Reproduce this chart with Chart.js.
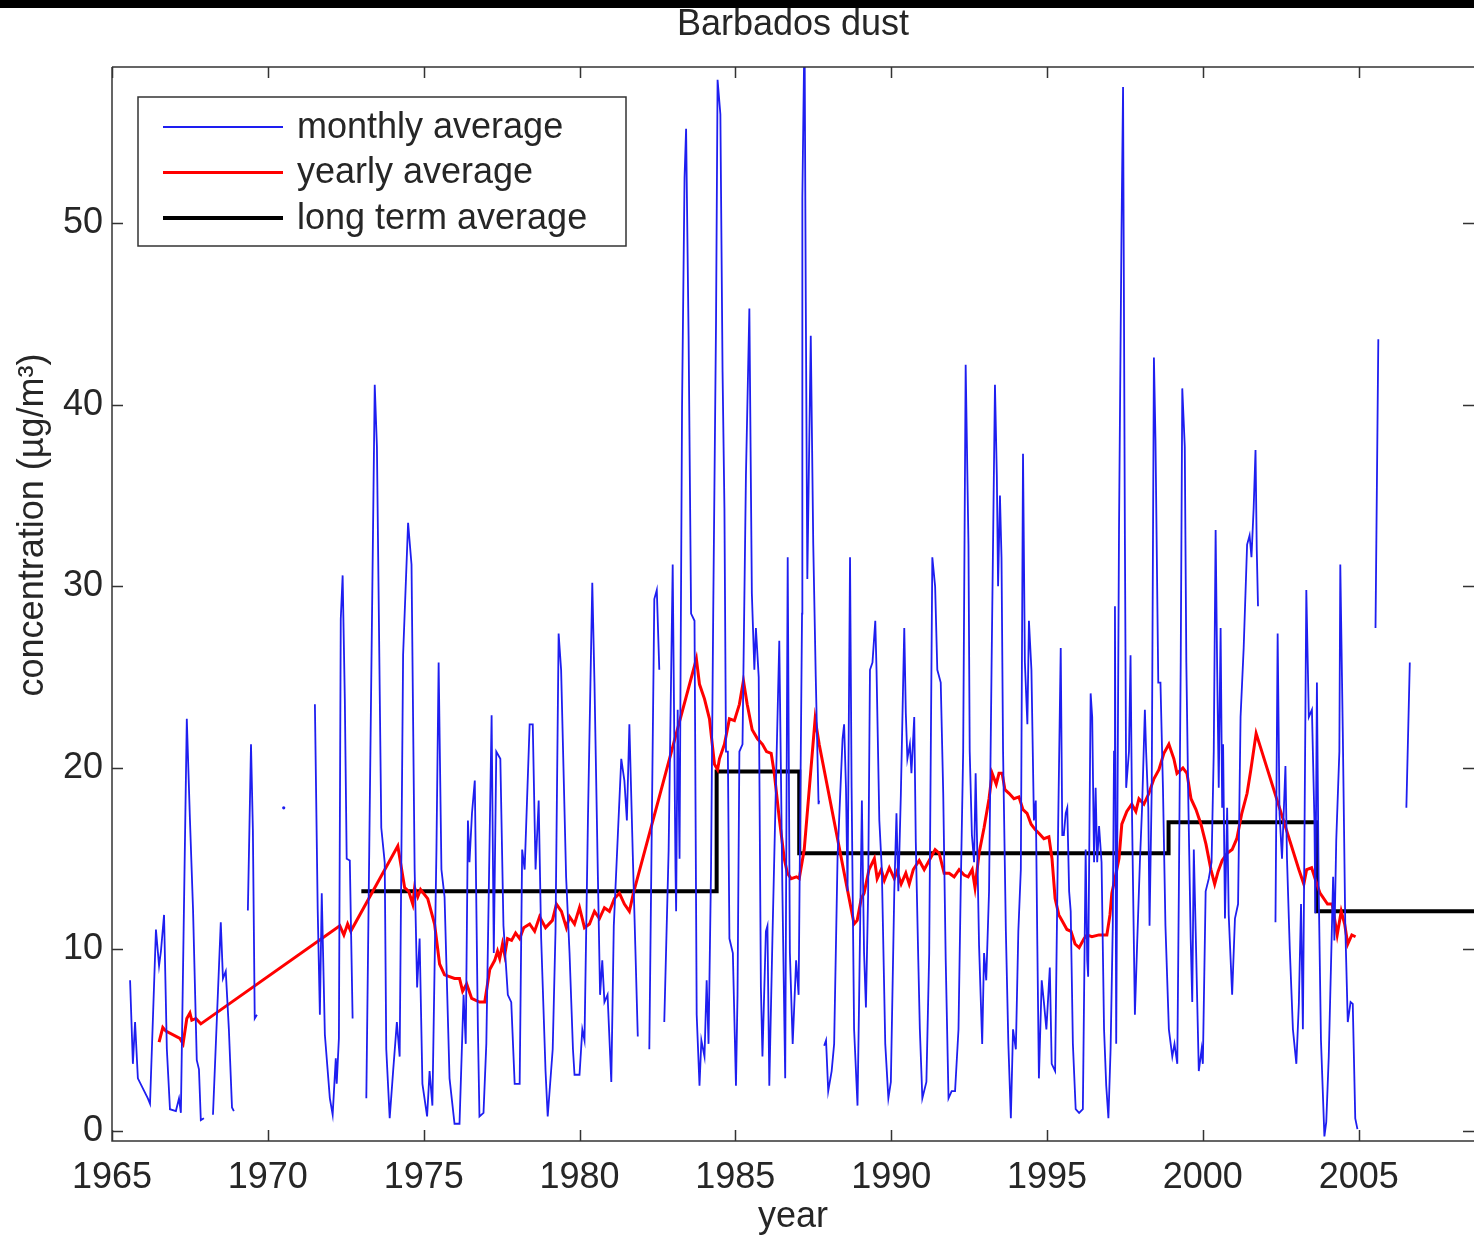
<!DOCTYPE html>
<html>
<head>
<meta charset="utf-8">
<title>Barbados dust</title>
<script src="https://cdn.jsdelivr.net/npm/chart.js@4.4.1/dist/chart.umd.min.js"></script>
<style>
  html, body { margin: 0; padding: 0; background: #fff; }
  #wrap { position: relative; width: 1474px; height: 1242px; }
  #topbar { position: absolute; left: 0; top: 0; width: 1474px; height: 8px; background: #000; }
</style>
</head>
<body>
<div id="wrap">
  <canvas id="dustChart" width="1474" height="1242"></canvas>
  <div id="topbar"></div>
</div>
<script>
/* DATA */
const xTicks = [1965, 1970, 1975, 1980, 1985, 1990, 1995, 2000, 2005];
const yTicks = [0, 10, 20, 30, 40, 50];

// monthly average, null = gap in the record
const monthlyYear = [
  1965.58, 1965.67, 1965.74, 1965.83, 1966.15, 1966.22, 1966.41, 1966.51, 1966.57, 1966.67,
  1966.76, 1966.86, 1967.05, 1967.15, 1967.21, 1967.40, 1967.50, 1967.60, 1967.72, 1967.79,
  1967.85, 1967.95, 1968.10, 1968.24, 1968.49, 1968.56, 1968.65, 1968.75, 1968.85, 1968.91,
  1969.10, 1969.33, 1969.36, 1969.46, 1969.52, 1969.58, 1969.65, 1970.00, 1970.51, 1971.00,
  1971.51, 1971.60, 1971.67, 1971.73, 1971.83, 1971.99, 1972.08, 1972.18, 1972.21, 1972.28,
  1972.34, 1972.40, 1972.47, 1972.53, 1972.63, 1972.72, 1972.90,
  1973.16, 1973.43, 1973.50, 1973.64, 1973.75, 1973.80, 1973.91, 1974.02, 1974.14, 1974.23,
  1974.34, 1974.50, 1974.61, 1974.71, 1974.79, 1974.87, 1974.96, 1975.11, 1975.19, 1975.28,
  1975.41, 1975.48, 1975.57, 1975.67, 1975.83, 1975.99, 1976.15, 1976.28, 1976.35, 1976.42,
  1976.47, 1976.55, 1976.64, 1976.74, 1976.79, 1976.92, 1977.01, 1977.18, 1977.25, 1977.33,
  1977.46, 1977.56, 1977.70, 1977.81, 1977.92, 1978.08, 1978.16, 1978.24, 1978.40, 1978.50,
  1978.59, 1978.69, 1978.77, 1978.91, 1978.98, 1979.14, 1979.23, 1979.33, 1979.41, 1979.57,
  1979.68, 1979.79, 1979.84, 1980.00, 1980.09, 1980.16, 1980.27, 1980.41, 1980.48, 1980.59,
  1980.66, 1980.73, 1980.80, 1980.90, 1981.02, 1981.10, 1981.23, 1981.34, 1981.44, 1981.52,
  1981.60, 1981.71, 1981.79, 1981.87, 1982.10,
  1982.24, 1982.40, 1982.48, 1982.56, 1982.65,
  1982.72, 1982.86, 1982.99, 1983.08, 1983.10, 1983.15, 1983.21, 1983.29, 1983.37, 1983.42,
  1983.50, 1983.58, 1983.69, 1983.76, 1983.85, 1983.91, 1984.01, 1984.08, 1984.14, 1984.22,
  1984.29, 1984.38, 1984.43, 1984.52, 1984.59, 1984.65, 1984.70, 1984.76, 1984.81, 1984.92,
  1985.02, 1985.07, 1985.13, 1985.23, 1985.34, 1985.45, 1985.53, 1985.61, 1985.66, 1985.75,
  1985.82, 1985.87, 1985.98, 1986.03, 1986.09, 1986.19, 1986.30, 1986.41, 1986.51, 1986.60,
  1986.68, 1986.75, 1986.84, 1986.95, 1987.03, 1987.14, 1987.15, 1987.22, 1987.26, 1987.31,
  1987.42, 1987.50, 1987.58, 1987.67, 1987.69, 1987.78,
  1987.85, 1987.91, 1987.98, 1988.09, 1988.17, 1988.28, 1988.44, 1988.49, 1988.55, 1988.60,
  1988.68, 1988.73, 1988.81, 1988.92, 1988.97, 1989.06, 1989.13, 1989.19, 1989.26, 1989.32,
  1989.40, 1989.49, 1989.53, 1989.62, 1989.70, 1989.81, 1989.91, 1989.99, 1990.10, 1990.17,
  1990.23, 1990.31, 1990.42, 1990.47, 1990.52, 1990.60, 1990.65, 1990.74, 1990.79, 1990.87,
  1990.92, 1991.00, 1991.13, 1991.22, 1991.32, 1991.41, 1991.48, 1991.59, 1991.67, 1991.75,
  1991.84, 1991.94, 1992.05, 1992.16, 1992.23, 1992.31, 1992.39, 1992.48, 1992.52, 1992.59,
  1992.66, 1992.71, 1992.77, 1992.82, 1992.92, 1992.98, 1993.05, 1993.14, 1993.22, 1993.33,
  1993.39, 1993.43, 1993.49, 1993.54, 1993.59, 1993.68, 1993.76, 1993.84, 1993.91, 1994.00,
  1994.08, 1994.16, 1994.23, 1994.29, 1994.37, 1994.42, 1994.50, 1994.58, 1994.64, 1994.69,
  1994.74, 1994.83, 1994.90, 1994.98, 1995.09, 1995.15, 1995.26, 1995.36, 1995.44, 1995.49,
  1995.54, 1995.60, 1995.65, 1995.71, 1995.76, 1995.83, 1995.92, 1996.03, 1996.15, 1996.24,
  1996.29, 1996.32, 1996.40, 1996.45, 1996.51, 1996.56, 1996.61, 1996.67, 1996.75, 1996.83,
  1996.90, 1996.97, 1997.04, 1997.11, 1997.15, 1997.18, 1997.22, 1997.31, 1997.39, 1997.44,
  1997.50, 1997.54, 1997.63, 1997.68, 1997.73, 1997.82, 1997.89, 1997.98, 1998.05, 1998.14,
  1998.18, 1998.25, 1998.29, 1998.36, 1998.43, 1998.48, 1998.57, 1998.64, 1998.72, 1998.80,
  1998.91, 1999.02, 1999.09, 1999.18, 1999.23, 1999.29, 1999.34, 1999.42, 1999.47, 1999.53,
  1999.61, 1999.66, 1999.71, 1999.77, 1999.82, 1999.87, 1999.96, 2000.00, 2000.09, 2000.19,
  2000.28, 2000.35, 2000.41, 2000.46, 2000.51, 2000.57, 2000.62, 2000.65, 2000.71, 2000.78,
  2000.83, 2000.94, 2001.03, 2001.13, 2001.21, 2001.31, 2001.42, 2001.50, 2001.56, 2001.63,
  2001.69, 2001.73, 2001.77, 2001.95,
  2002.33, 2002.40, 2002.46, 2002.54, 2002.65, 2002.70, 2002.79, 2002.89, 2003.00, 2003.08,
  2003.15, 2003.21, 2003.26, 2003.32, 2003.40, 2003.45, 2003.50, 2003.58, 2003.61, 2003.66,
  2003.72, 2003.79, 2003.90, 2003.96, 2004.04, 2004.11, 2004.18, 2004.22, 2004.28, 2004.38,
  2004.41, 2004.49, 2004.57, 2004.65, 2004.74, 2004.81, 2004.89, 2004.96, 2005.20,
  2005.54, 2005.63, 2006.00,
  2006.53, 2006.64
];
const monthlyValue = [
  8.3, 3.7, 6.0, 2.9, 1.8, 1.5, 11.1, 9.1, 9.9, 11.9,
  4.5, 1.2, 1.1, 1.8, 1.0, 22.7, 17.2, 12.2, 3.9, 3.4,
  0.6, 0.7, null, 0.9, 11.5, 8.4, 8.8, 5.6, 1.3, 1.1,
  null, 12.2, 12.2, 21.3, 16.6, 6.2, 6.4, null, 17.8, null,
  23.5, 12.2, 6.4, 13.1, 5.3, 1.8, 0.9, 4.0, 2.6, 5.1,
  28.2, 30.6, 23.8, 15.0, 14.9, 6.2, null,
  1.8, 41.1, 37.7, 16.7, 14.8, 4.5, 0.7, 3.3, 6.0, 4.1,
  26.2, 33.5, 31.2, 14.4, 7.9, 10.6, 2.6, 0.8, 3.3, 1.4,
  15.5, 25.8, 14.4, 12.9, 2.9, 0.4, 0.4, 7.5, 4.8, 17.1,
  14.8, 17.5, 19.3, 5.6, 0.8, 1.0, 4.8, 22.9, 9.8, 20.9,
  20.5, 11.3, 7.5, 7.1, 2.6, 2.6, 15.5, 14.4, 22.4, 22.4,
  14.4, 18.2, 10.6, 3.3, 0.8, 4.5, 11.0, 27.4, 25.4, 14.0,
  9.8, 4.5, 3.1, 3.1, 5.6, 5.0, 17.1, 30.2, 24.7, 14.0,
  7.5, 9.4, 7.1, 7.5, 2.7, 11.3, 16.3, 20.5, 19.3, 17.1,
  22.4, 15.2, 10.2, 5.2, null,
  4.5, 29.3, 29.8, 25.4, null,
  6.0, 15.5, 31.2, 14.4, 12.1, 23.2, 15.0, 39.9, 52.5, 55.2,
  43.8, 28.5, 28.1, 6.4, 2.5, 5.0, 4.1, 8.3, 4.8, 14.4,
  28.5, 44.5, 57.9, 56.0, 41.8, 34.3, 20.9, 20.9, 10.6, 9.8,
  2.5, 7.5, 20.9, 21.3, 36.1, 45.3, 29.6, 25.4, 27.7, 25.0,
  7.9, 4.1, 11.0, 11.3, 2.5, 10.6, 18.9, 27.0, 13.2, 2.9,
  31.6, 9.8, 4.8, 9.4, 7.5, 28.5, 51.4, 61.0, 45.7, 30.4,
  43.8, 32.3, 25.0, 18.0, 18.2, null,
  4.7, 5.0, 2.2, 3.3, 4.8, 15.1, 21.6, 22.4, 18.9, 13.2,
  31.6, 18.9, 5.6, 1.4, 7.1, 18.2, 9.8, 6.8, 13.0, 25.4,
  25.8, 28.1, 25.4, 17.1, 14.4, 4.8, 1.8, 2.7, 13.2, 17.5,
  13.2, 18.5, 27.7, 23.0, 20.5, 21.3, 19.7, 22.8, 15.9, 9.4,
  5.6, 1.8, 2.7, 9.8, 31.6, 30.0, 25.4, 24.7, 18.6, 9.4,
  1.8, 2.2, 2.2, 5.6, 13.2, 20.9, 42.2, 32.3, 20.9, 16.3,
  14.8, 19.7, 14.8, 10.2, 4.8, 9.8, 8.3, 13.2, 25.4, 41.1,
  36.1, 30.0, 35.0, 31.6, 20.9, 11.0, 4.8, 0.7, 5.6, 4.5,
  11.0, 14.4, 37.3, 25.8, 22.4, 28.1, 25.4, 17.1, 18.2, 10.2,
  2.9, 8.3, 7.1, 5.6, 9.0, 3.7, 3.3, 17.1, 26.6, 16.3,
  16.3, 17.5, 17.8, 13.2, 12.1, 4.8, 1.2, 1.0, 1.2, 15.5,
  9.4, 8.5, 24.1, 22.8, 14.8, 18.9, 14.8, 16.8, 14.8, 5.6,
  2.5, 0.7, 4.5, 11.3, 20.9, 28.9, 4.8, 33.1, 49.5, 57.5,
  32.3, 18.9, 20.9, 26.2, 17.1, 6.4, 10.2, 14.8, 17.8, 23.2,
  20.9, 17.8, 11.3, 18.9, 42.6, 38.1, 24.7, 24.7, 18.9, 11.3,
  5.6, 4.1, 4.8, 3.7, 13.2, 25.8, 40.9, 37.7, 25.8, 18.6,
  10.6, 7.1, 15.5, 11.0, 7.1, 3.3, 4.5, 3.7, 13.2, 13.9,
  14.8, 20.9, 33.1, 25.4, 18.9, 27.7, 17.8, 21.3, 11.7, 17.8,
  11.9, 7.5, 11.7, 12.5, 22.8, 26.6, 32.3, 32.8, 31.6, 34.3,
  37.5, 32.0, 28.9, null,
  11.5, 27.4, 17.5, 15.0, 20.1, 15.0, 10.0, 5.6, 3.7, 7.0,
  12.5, 5.6, 16.0, 29.8, 22.8, 23.0, 23.2, 17.1, 12.0, 24.7,
  13.0, 5.0, -0.3, 0.5, 4.1, 9.0, 14.0, 10.5, 16.0, 20.9,
  31.2, 22.0, 11.3, 6.0, 7.1, 7.0, 0.7, 0.1, null,
  27.7, 43.6, null,
  17.8, 25.8
];

// yearly (running) average
const yearlyYear = [
  1966.51, 1966.63, 1966.73, 1967.18, 1967.28, 1967.40, 1967.50, 1967.56, 1967.69, 1967.85,
  1972.31, 1972.44, 1972.56, 1972.66, 1974.17, 1974.39, 1974.52, 1974.65, 1974.71, 1974.81,
  1974.90, 1975.13, 1975.35, 1975.51, 1975.67, 1975.99, 1976.15, 1976.25, 1976.38, 1976.54,
  1976.79, 1976.96, 1977.12, 1977.28, 1977.37, 1977.44, 1977.53, 1977.60, 1977.69, 1977.82,
  1977.95, 1978.08, 1978.21, 1978.40, 1978.56, 1978.72, 1978.91, 1979.13, 1979.26, 1979.42,
  1979.58, 1979.68, 1979.84, 1980.00, 1980.16, 1980.32, 1980.48, 1980.64, 1980.80, 1980.96,
  1981.12, 1981.28, 1981.44, 1981.60, 1981.73, 1983.75, 1983.85, 1984.01, 1984.17, 1984.33,
  1984.43, 1984.49, 1984.65, 1984.81, 1984.97, 1985.13, 1985.26, 1985.38, 1985.54, 1985.71,
  1985.87, 1986.00, 1986.15, 1986.25, 1986.41, 1986.57, 1986.67, 1986.79, 1986.96, 1987.05,
  1987.21, 1987.56, 1987.69, 1988.81, 1988.91, 1989.04, 1989.13, 1989.29, 1989.46, 1989.55,
  1989.68, 1989.78, 1989.94, 1990.10, 1990.19, 1990.32, 1990.47, 1990.58, 1990.71, 1990.90,
  1991.06, 1991.22, 1991.41, 1991.54, 1991.70, 1991.86, 1992.02, 1992.18, 1992.34, 1992.47,
  1992.60, 1992.69, 1992.82, 1992.98, 1993.14, 1993.24, 1993.37, 1993.46, 1993.56, 1993.65,
  1993.78, 1993.94, 1994.10, 1994.23, 1994.36, 1994.49, 1994.62, 1994.74, 1994.90, 1995.06,
  1995.16, 1995.26, 1995.38, 1995.48, 1995.64, 1995.77, 1995.90, 1996.03, 1996.19, 1996.28,
  1996.44, 1996.67, 1996.92, 1997.02, 1997.08, 1997.18, 1997.31, 1997.40, 1997.56, 1997.72,
  1997.85, 1997.95, 1998.11, 1998.27, 1998.43, 1998.59, 1998.75, 1998.91, 1999.07, 1999.17,
  1999.36, 1999.49, 1999.62, 1999.78, 1999.94, 2000.10, 2000.26, 2000.38, 2000.49, 2000.62,
  2000.78, 2000.94, 2001.09, 2001.25, 2001.42, 2001.54, 2001.71, 2003.08, 2003.24, 2003.33,
  2003.49, 2003.60, 2003.76, 2004.00, 2004.15, 2004.31, 2004.44, 2004.55, 2004.65, 2004.78,
  2004.90
];
const yearlyValue = [
  4.9, 5.7, 5.5, 5.1, 4.8, 6.2, 6.5, 6.1, 6.2, 5.9,
  11.3, 10.8, 11.4, 11.0, 15.7, 13.4, 13.2, 12.5, 13.4, 12.9,
  13.3, 12.8, 11.4, 9.2, 8.6, 8.4, 8.4, 7.7, 8.1, 7.3,
  7.1, 7.1, 8.9, 9.4, 9.9, 9.5, 10.3, 9.7, 10.6, 10.5,
  10.9, 10.6, 11.2, 11.4, 11.0, 11.8, 11.2, 11.6, 12.5, 12.1,
  11.2, 11.8, 11.4, 12.3, 11.2, 11.4, 12.1, 11.7, 12.3, 12.1,
  12.8, 13.1, 12.5, 12.1, 13.1, 26.0, 24.6, 23.8, 22.7, 20.2,
  19.9, 20.5, 21.3, 22.7, 22.6, 23.5, 24.8, 23.5, 22.1, 21.6,
  21.3, 20.9, 20.8, 19.7, 17.2, 15.0, 14.2, 13.9, 14.0, 13.9,
  15.5, 22.7, 21.3, 11.4, 11.6, 12.8, 13.1, 14.4, 15.0, 13.9,
  14.4, 13.8, 14.5, 13.9, 14.3, 13.6, 14.2, 13.6, 14.4, 14.9,
  14.4, 14.9, 15.5, 15.3, 14.2, 14.2, 14.0, 14.4, 14.1, 14.0,
  14.4, 13.4, 15.3, 16.7, 18.3, 19.7, 19.1, 19.7, 19.7, 18.8,
  18.6, 18.3, 18.4, 17.7, 17.5, 16.9, 16.6, 16.4, 16.1, 16.2,
  15.0, 12.8, 11.9, 11.6, 11.1, 11.0, 10.3, 10.1, 10.6, 10.8,
  10.7, 10.8, 10.8, 11.9, 13.1, 13.9, 15.0, 16.9, 17.6, 18.0,
  17.6, 18.3, 18.0, 18.6, 19.4, 19.9, 20.8, 21.3, 20.5, 19.7,
  20.0, 19.7, 18.3, 17.7, 16.9, 15.8, 14.4, 13.6, 14.3, 14.9,
  15.3, 15.5, 16.1, 17.5, 18.6, 19.9, 21.9, 14.4, 13.6, 14.4,
  14.5, 13.9, 13.1, 12.5, 12.5, 10.8, 12.1, 11.4, 10.3, 10.8,
  10.7
];

// long term average, value holds from each year until the next one
const longYear = [1973.0, 1984.4, 1987.05, 1998.9, 2003.65, 2009.0];
const longValue = [13.2, 19.8, 15.3, 17.0, 12.1, 12.1];

const toPoints = (xs, ys) => xs.map((x, i) => ({ x: x, y: ys[i] }));

const FONT = '"Liberation Sans", Arial, Helvetica, sans-serif';
const INK = '#262626';

/* frame + inward ticks, matlab style */
const frameTicks = {
  id: 'frameTicks',
  afterDatasetsDraw(chart) {
    const { ctx, chartArea: a, scales: { x, y } } = chart;
    ctx.save();
    ctx.strokeStyle = '#333';
    ctx.lineWidth = 1.5;
    ctx.beginPath();
    ctx.moveTo(a.left, a.top);
    ctx.lineTo(a.right, a.top);
    ctx.moveTo(a.left, a.top);
    ctx.lineTo(a.left, a.bottom);
    ctx.lineTo(a.right, a.bottom);
    x.ticks.forEach(t => {
      const px = Math.round(x.getPixelForValue(t.value)) + 0.5;
      ctx.moveTo(px, a.bottom);
      ctx.lineTo(px, a.bottom - 11);
      ctx.moveTo(px, a.top);
      ctx.lineTo(px, a.top + 11);
    });
    y.ticks.forEach(t => {
      const py = Math.round(y.getPixelForValue(t.value)) + 0.5;
      ctx.moveTo(a.left, py);
      ctx.lineTo(a.left + 11, py);
      ctx.moveTo(a.right - 11, py);
      ctx.lineTo(a.right, py);
    });
    ctx.stroke();
    ctx.restore();
  }
};

/* legend box in the upper left corner of the axes */
const boxLegend = {
  id: 'boxLegend',
  afterDraw(chart) {
    const { ctx, chartArea: a } = chart;
    const bx = a.left + 26, by = a.top + 30, bw = 488, bh = 149;
    ctx.save();
    ctx.fillStyle = '#fff';
    ctx.fillRect(bx, by, bw, bh);
    ctx.strokeStyle = '#333';
    ctx.lineWidth = 1.5;
    ctx.strokeRect(bx, by, bw, bh);
    ctx.font = '36px ' + FONT;
    ctx.textBaseline = 'middle';
    ctx.textAlign = 'left';
    chart.data.datasets.forEach((ds, i) => {
      const ry = by + 30 + i * 45.5;
      ctx.strokeStyle = ds.borderColor;
      ctx.lineWidth = ds.borderWidth;
      ctx.beginPath();
      ctx.moveTo(bx + 25, ry);
      ctx.lineTo(bx + 145, ry);
      ctx.stroke();
      ctx.fillStyle = INK;
      ctx.fillText(ds.label, bx + 159, ry + 1);
    });
    ctx.restore();
  }
};

/* y axis title sits above the middle of the axis in the original */
const yTitle = {
  id: 'yTitle',
  afterDraw(chart) {
    const { ctx } = chart;
    ctx.save();
    ctx.translate(33, 525);
    ctx.rotate(-Math.PI / 2);
    ctx.font = '36px ' + FONT;
    ctx.fillStyle = INK;
    ctx.textAlign = 'center';
    ctx.textBaseline = 'middle';
    ctx.fillText('concentration (\u00b5g/m\u00b3)', 0, 0);
    ctx.restore();
  }
};

new Chart(document.getElementById('dustChart'), {
  type: 'line',
  data: {
    datasets: [{
      label: 'monthly average',
      data: toPoints(monthlyYear, monthlyValue),
      borderColor: '#1e1ef0',
      borderWidth: 1.8,
      pointRadius: ctx => {
        const v = monthlyValue;
        const i = ctx.dataIndex;
        return (v[i] !== null && v[i - 1] === null && v[i + 1] === null) ? 1.6 : 0;
      },
      pointBackgroundColor: '#1e1ef0',
      pointBorderWidth: 0,
      spanGaps: false,
      tension: 0,
      clip: 0
    }, {
      label: 'yearly average',
      data: toPoints(yearlyYear, yearlyValue),
      borderColor: '#ff0000',
      borderWidth: 3,
      pointRadius: 0,
      tension: 0,
      clip: 0
    }, {
      label: 'long term average',
      data: toPoints(longYear, longValue),
      borderColor: '#000000',
      borderWidth: 4,
      pointRadius: 0,
      stepped: 'before',
      clip: 0
    }]
  },
  options: {
    responsive: false,
    animation: false,
    layout: { padding: 0 },
    plugins: {
      legend: { display: false },
      tooltip: { enabled: false },
      title: {
        display: true,
        text: 'Barbados dust',
        fullSize: false,
        color: INK,
        font: { family: FONT, size: 36, weight: 'normal', lineHeight: 1.2 },
        padding: { top: 3, bottom: 20.8 }
      }
    },
    scales: {
      x: {
        type: 'linear',
        min: 1965,
        max: 2008.7,
        afterBuildTicks: s => { s.ticks = xTicks.map(v => ({ value: v })); },
        ticks: {
          color: INK,
          font: { family: FONT, size: 36 },
          padding: 15,
          maxRotation: 0,
          autoSkip: false,
          callback: v => String(v)
        },
        grid: { display: false, drawTicks: false },
        border: { display: false },
        title: {
          display: true,
          text: 'year',
          color: INK,
          font: { family: FONT, size: 36, lineHeight: 1.2 },
          padding: { top: 0, bottom: 3 }
        },
        afterFit: s => { s.height = 101; }
      },
      y: {
        min: -0.55,
        max: 58.6,
        afterBuildTicks: s => { s.ticks = yTicks.map(v => ({ value: v })); },
        ticks: {
          color: INK,
          font: { family: FONT, size: 36 },
          padding: 9,
          autoSkip: false
        },
        grid: { display: false, drawTicks: false },
        border: { display: false },
        afterFit: s => { s.width = 112; }
      }
    }
  },
  plugins: [frameTicks, boxLegend, yTitle]
});
</script>
</body>
</html>
